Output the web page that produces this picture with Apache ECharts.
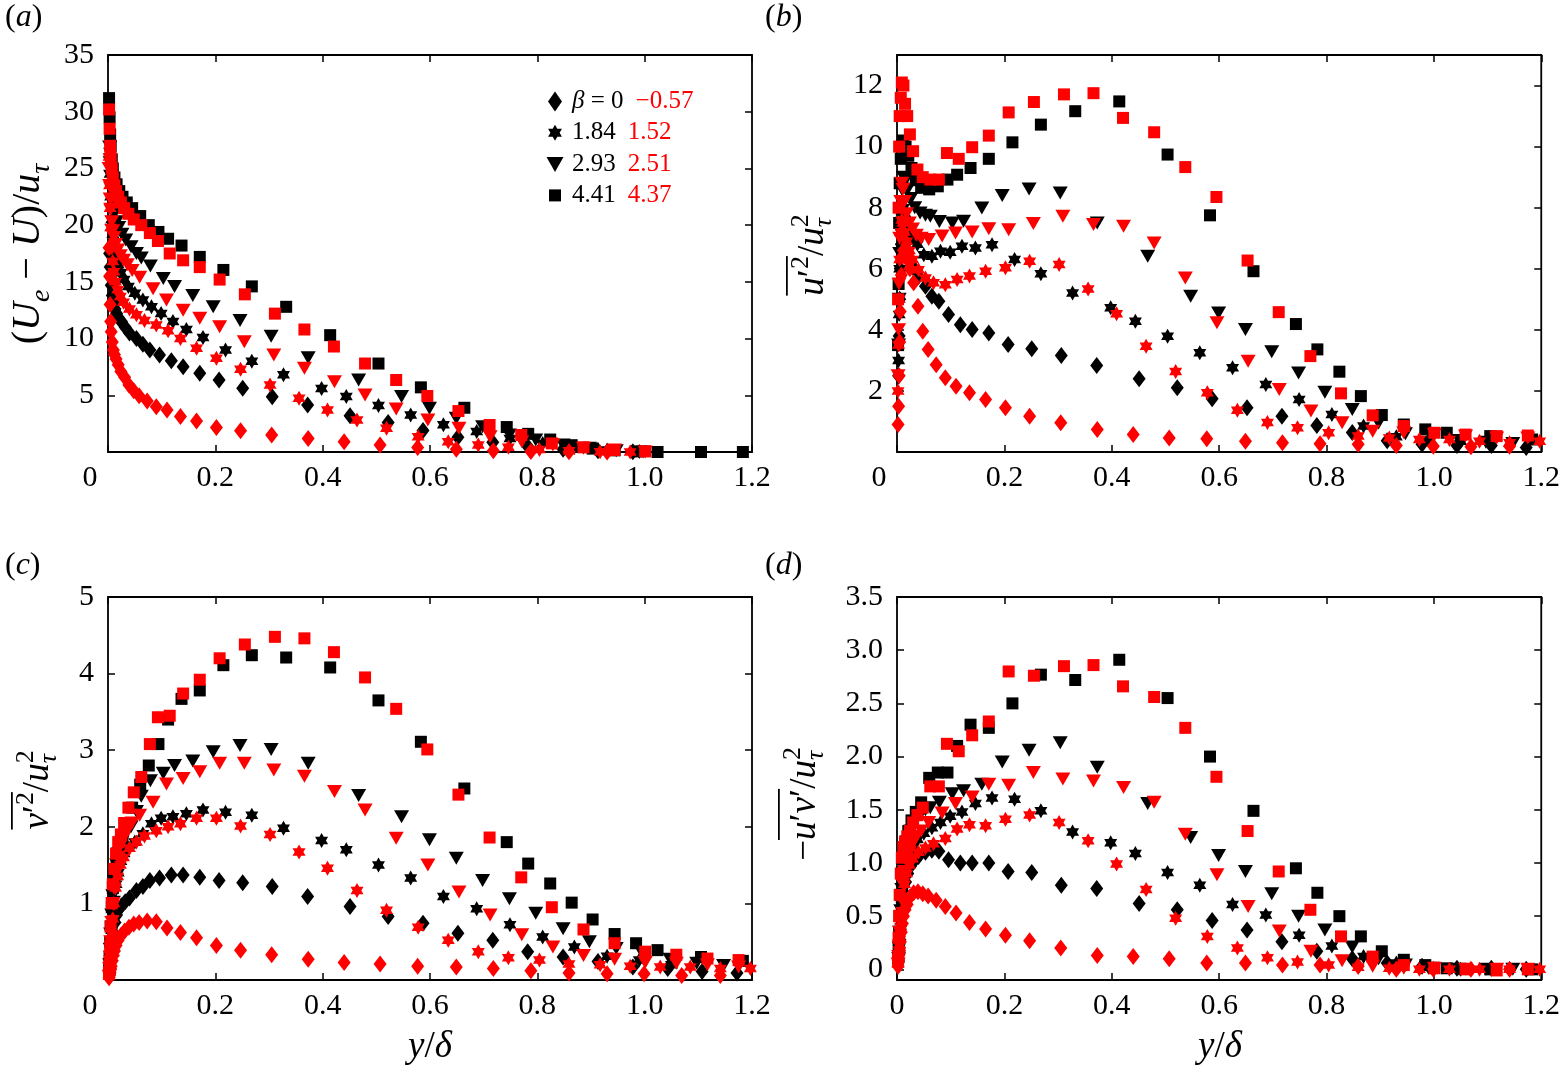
<!DOCTYPE html>
<html>
<head>
<meta charset="utf-8">
<script src="https://cdn.jsdelivr.net/npm/echarts/dist/echarts.min.js"></script>
<style>
html, body { margin: 0; padding: 0; background: #fff; }
#chart { width: 1563px; height: 1091px; }
</style>
</head>
<body>
<div id="chart"></div>
<script>
// y/delta positions of each profile (B = black, R = red; D diamond, S star, T triangle, Q square)
var xBD = [0.003, 0.004, 0.005, 0.006, 0.008, 0.010, 0.013, 0.016, 0.020, 0.025, 0.032, 0.040, 0.053, 0.065, 0.078, 0.096, 0.118, 0.140, 0.171, 0.207, 0.251, 0.306, 0.372, 0.451, 0.522, 0.587, 0.652, 0.717, 0.782, 0.848, 0.913, 0.978, 1.043, 1.107, 1.172];
var xRD = [0.002, 0.003, 0.004, 0.005, 0.006, 0.008, 0.010, 0.012, 0.015, 0.019, 0.024, 0.031, 0.039, 0.048, 0.058, 0.073, 0.090, 0.110, 0.135, 0.165, 0.202, 0.247, 0.305, 0.373, 0.440, 0.507, 0.577, 0.649, 0.718, 0.788, 0.859, 0.930, 0.999, 1.069, 1.141];
var xBS = [0.003, 0.004, 0.005, 0.007, 0.009, 0.012, 0.015, 0.019, 0.024, 0.030, 0.038, 0.050, 0.065, 0.081, 0.099, 0.121, 0.146, 0.177, 0.219, 0.268, 0.327, 0.398, 0.444, 0.504, 0.564, 0.625, 0.687, 0.749, 0.810, 0.869, 0.930, 0.990, 1.050];
var xRS = [0.002, 0.003, 0.004, 0.005, 0.007, 0.009, 0.011, 0.014, 0.018, 0.023, 0.029, 0.040, 0.053, 0.068, 0.090, 0.112, 0.135, 0.165, 0.202, 0.247, 0.302, 0.356, 0.409, 0.464, 0.519, 0.578, 0.634, 0.690, 0.746, 0.804, 0.859, 0.917, 0.973, 1.029, 1.085, 1.141, 1.197];
var xBT = [0.003, 0.004, 0.005, 0.007, 0.009, 0.012, 0.016, 0.020, 0.026, 0.033, 0.043, 0.053, 0.062, 0.079, 0.103, 0.124, 0.158, 0.196, 0.246, 0.304, 0.373, 0.467, 0.547, 0.599, 0.649, 0.698, 0.748, 0.797, 0.848, 0.897, 0.947, 0.997, 1.047, 1.097, 1.147];
var xRT = [0.002, 0.003, 0.004, 0.005, 0.007, 0.009, 0.011, 0.014, 0.018, 0.023, 0.029, 0.036, 0.045, 0.059, 0.084, 0.109, 0.140, 0.171, 0.208, 0.254, 0.309, 0.366, 0.422, 0.479, 0.537, 0.596, 0.654, 0.712, 0.771, 0.829, 0.886, 0.944, 1.001, 1.059, 1.117, 1.175];
var xBQ = [0.002, 0.003, 0.004, 0.005, 0.007, 0.009, 0.012, 0.016, 0.021, 0.027, 0.035, 0.045, 0.060, 0.076, 0.094, 0.112, 0.137, 0.171, 0.215, 0.268, 0.332, 0.414, 0.504, 0.583, 0.664, 0.743, 0.783, 0.824, 0.864, 0.903, 0.944, 0.984, 1.024, 1.105, 1.183];
var xRQ = [0.002, 0.003, 0.004, 0.005, 0.007, 0.009, 0.012, 0.015, 0.019, 0.024, 0.030, 0.038, 0.048, 0.062, 0.078, 0.093, 0.115, 0.140, 0.171, 0.208, 0.255, 0.311, 0.366, 0.421, 0.479, 0.537, 0.595, 0.653, 0.711, 0.770, 0.827, 0.886, 0.944, 1.001, 1.059, 1.117, 1.175];

// (a) velocity defect (Ue - U)/u_tau
var aBD = [17.5, 16.3, 15.4, 14.7, 13.8, 13.2, 12.6, 12.2, 11.8, 11.5, 11.0, 10.5, 10.0, 9.5, 9.0, 8.55, 8.05, 7.52, 6.94, 6.35, 5.61, 4.88, 4.14, 3.2, 2.6, 1.9, 1.3, 0.85, 0.5, 0.25, 0.1, 0.03, null, null, null];
var aRD = [18.0, 15.5, 13.0, 11.5, 10.6, 9.7, 9.0, 8.6, 8.2, 7.7, 7.1, 6.6, 5.9, 5.4, 4.95, 4.5, 4.0, 3.7, 3.12, 2.73, 2.17, 1.88, 1.50, 1.20, 0.91, 0.62, 0.4, 0.25, 0.12, 0.05, 0.02, 0.0, null, null, null];
var aBS = [26.5, 24.5, 22.5, 20.5, 19.2, 18.0, 17.2, 16.5, 15.8, 15.2, 14.6, 14.0, 13.4, 12.8, 12.2, 11.5, 10.8, 10.1, 9.0, 8.0, 6.8, 5.6, 4.9, 4.1, 3.26, 2.4, 1.8, 1.2, 0.76, 0.41, 0.17, 0.05, null];
var aRS = [26.0, 23.5, 21.5, 19.8, 18.0, 16.8, 15.9, 15.0, 14.3, 13.7, 13.2, 12.6, 12.1, 11.6, 11.2, 10.7, 10.0, 9.14, 8.26, 7.29, 5.91, 4.73, 3.70, 2.82, 2.09, 1.35, 0.91, 0.62, 0.41, 0.23, 0.11, 0.03, 0.0, null, null, null, null];
var aBT = [26.9, 25.5, 24.3, 23.0, 22.0, 21.0, 20.3, 19.8, 19.2, 18.7, 18.1, 17.5, 17.1, 16.4, 15.3, 14.6, 13.8, 12.8, 11.6, 10.2, 8.3, 6.35, 4.9, 3.85, 2.97, 2.23, 1.50, 1.06, 0.62, 0.32, 0.12, 0.0, null, null, null];
var aRT = [25.0, 23.5, 22.3, 21.4, 20.3, 19.5, 18.9, 18.3, 17.8, 17.3, 16.9, 16.5, 16.0, 15.4, 14.4, 13.4, 12.5, 11.8, 11.05, 9.73, 8.55, 7.38, 6.20, 5.02, 3.8, 2.82, 2.09, 1.35, 0.91, 0.62, 0.32, 0.17, 0.0, null, null, null];
var aBQ = [31.2, 29.5, 28.0, 27.0, 25.8, 25.0, 24.2, 23.6, 23.0, 22.5, 22.0, 21.5, 20.8, 20.0, 19.4, 18.8, 18.2, 17.2, 16.05, 14.6, 12.8, 10.3, 7.8, 5.7, 3.9, 2.2, 1.6, 1.1, 0.6, 0.3, 0.15, 0.05, 0.0, 0.0, 0.0];
var aRQ = [30.2, 28.5, 27.0, 26.0, 25.0, 24.2, 23.5, 23.0, 22.5, 22.0, 21.5, 21.0, 20.5, 20.0, 19.3, 18.6, 17.5, 16.9, 16.3, 15.2, 13.9, 12.2, 10.8, 9.3, 7.8, 6.35, 4.94, 3.61, 2.38, 1.50, 0.76, 0.41, 0.17, 0.05, null, null, null];

// (b) streamwise normal stress u'u'/u_tau^2
var bBD = [2.5, 3.8, 5.0, 6.0, 6.8, 7.0, 6.9, 6.7, 6.4, 6.2, 6.0, 5.75, 5.43, 5.1, 4.94, 4.50, 4.17, 4.01, 3.90, 3.52, 3.38, 3.16, 2.83, 2.40, 2.10, 1.74, 1.45, 1.17, 0.87, 0.64, 0.37, 0.25, 0.21, 0.21, 0.15];
var bRD = [0.9, 1.5, 2.5, 3.6, 4.6, 5.8, 6.4, 6.6, 6.5, 6.3, 6.0, 5.54, 4.77, 3.95, 3.36, 2.86, 2.43, 2.15, 1.94, 1.72, 1.45, 1.17, 0.96, 0.74, 0.57, 0.46, 0.43, 0.35, 0.30, 0.27, 0.25, 0.21, 0.19, 0.17, 0.19];
var bBS = [3.0, 4.5, 6.0, 7.2, 7.9, 8.0, 7.8, 7.5, 7.2, 7.0, 6.8, 6.46, 6.41, 6.57, 6.54, 6.74, 6.68, 6.79, 6.30, 5.84, 5.21, 4.72, 4.28, 3.79, 3.25, 2.76, 2.21, 1.72, 1.23, 0.85, 0.50, 0.40, 0.35];
var bRS = [2.0, 3.5, 5.0, 6.3, 7.2, 7.6, 7.5, 7.2, 6.9, 6.6, 6.3, 5.97, 5.70, 5.54, 5.48, 5.65, 5.76, 5.92, 6.03, 6.25, 6.14, 5.34, 4.53, 3.46, 2.64, 1.94, 1.37, 0.97, 0.79, 0.63, 0.52, 0.46, 0.41, 0.41, 0.35, 0.30, 0.35];
var bBT = [3.5, 5.0, 6.5, 7.8, 8.6, 9.0, 8.9, 8.6, 8.3, 8.0, 7.83, 7.75, 7.72, 7.55, 7.50, 7.56, 7.99, 8.40, 8.61, 8.48, 7.50, 6.41, 5.10, 4.55, 4.01, 3.28, 2.59, 1.96, 1.39, 0.95, 0.60, 0.45, 0.38, 0.32, 0.28];
var bRT = [2.5, 4.0, 5.5, 7.0, 8.2, 8.8, 8.6, 8.2, 7.8, 7.5, 7.3, 7.1, 7.0, 6.96, 7.07, 7.17, 7.20, 7.31, 7.28, 7.48, 7.72, 7.45, 7.39, 6.84, 5.70, 4.23, 2.97, 2.05, 1.34, 0.96, 0.68, 0.63, 0.57, 0.52, 0.46, 0.46];
var bBQ = [3.5, 5.5, 7.5, 8.8, 9.6, 10.0, 10.2, 10.0, 9.7, 9.3, 8.9, 8.65, 8.6, 8.7, 8.92, 9.08, 9.30, 9.60, 10.14, 10.72, 11.16, 11.48, 9.74, 7.75, 5.92, 4.19, 3.36, 2.63, 1.83, 1.21, 0.90, 0.74, 0.63, 0.52, 0.41];
var bRQ = [5.0, 8.0, 10.0, 11.0, 11.6, 12.1, 12.0, 11.4, 11.0, 10.4, 9.85, 9.25, 9.0, 8.92, 8.92, 9.79, 9.60, 9.98, 10.36, 11.12, 11.46, 11.71, 11.75, 10.94, 10.47, 9.33, 8.35, 6.27, 4.58, 3.14, 1.92, 1.20, 0.85, 0.63, 0.57, 0.52, 0.54];

// (c) wall-normal stress v'v'/u_tau^2
var cBD = [0.08, 0.15, 0.25, 0.35, 0.5, 0.62, 0.75, 0.85, 0.92, 0.97, 1.02, 1.07, 1.17, 1.22, 1.30, 1.33, 1.37, 1.37, 1.34, 1.30, 1.27, 1.22, 1.09, 0.96, 0.83, 0.74, 0.61, 0.52, 0.37, 0.30, 0.24, 0.17, 0.15, 0.11, 0.09];
var cRD = [0.03, 0.06, 0.1, 0.14, 0.18, 0.25, 0.32, 0.38, 0.45, 0.52, 0.58, 0.64, 0.69, 0.73, 0.75, 0.77, 0.76, 0.68, 0.62, 0.55, 0.45, 0.39, 0.33, 0.27, 0.23, 0.21, 0.18, 0.17, 0.15, 0.12, 0.09, 0.08, 0.08, 0.06, 0.06];
var cBS = [0.15, 0.3, 0.45, 0.65, 0.85, 1.05, 1.25, 1.4, 1.55, 1.65, 1.72, 1.80, 1.91, 2.04, 2.11, 2.13, 2.17, 2.22, 2.19, 2.15, 1.98, 1.82, 1.70, 1.50, 1.33, 1.09, 0.93, 0.72, 0.56, 0.43, 0.31, 0.26, 0.20];
var cRS = [0.05, 0.12, 0.25, 0.4, 0.6, 0.8, 1.0, 1.2, 1.35, 1.5, 1.6, 1.72, 1.80, 1.88, 1.95, 2.0, 2.04, 2.11, 2.11, 2.01, 1.90, 1.67, 1.46, 1.17, 0.91, 0.69, 0.52, 0.37, 0.29, 0.26, 0.21, 0.20, 0.18, 0.17, 0.17, 0.15, 0.15];
var cBT = [0.2, 0.4, 0.6, 0.85, 1.1, 1.3, 1.5, 1.65, 1.8, 1.9, 2.0, 2.2, 2.4, 2.6, 2.70, 2.80, 2.86, 2.98, 3.06, 3.01, 2.83, 2.41, 2.13, 1.83, 1.59, 1.30, 1.06, 0.87, 0.67, 0.50, 0.41, 0.33, 0.27, 0.22, 0.19];
var cRT = [0.05, 0.15, 0.3, 0.5, 0.75, 1.0, 1.2, 1.4, 1.6, 1.75, 1.85, 1.95, 2.05, 2.15, 2.32, 2.56, 2.63, 2.72, 2.83, 2.83, 2.74, 2.66, 2.46, 2.22, 1.85, 1.50, 1.15, 0.85, 0.59, 0.43, 0.32, 0.27, 0.23, 0.22, 0.20, 0.17];
var cBQ = [0.15, 0.3, 0.5, 0.7, 0.95, 1.2, 1.35, 1.55, 1.7, 1.85, 2.05, 2.25, 2.55, 2.8, 3.08, 3.40, 3.67, 3.78, 4.11, 4.24, 4.21, 4.08, 3.65, 3.11, 2.50, 1.80, 1.52, 1.26, 1.01, 0.79, 0.60, 0.48, 0.39, 0.30, 0.25];
var cRQ = [0.1, 0.25, 0.45, 0.7, 1.0, 1.25, 1.45, 1.65, 1.8, 1.9, 2.05, 2.25, 2.45, 2.65, 3.08, 3.43, 3.45, 3.74, 3.92, 4.20, 4.38, 4.48, 4.46, 4.28, 3.95, 3.54, 3.01, 2.42, 1.86, 1.34, 0.95, 0.66, 0.48, 0.37, 0.33, 0.28, 0.26];

// (d) Reynolds shear stress -u'v'/u_tau^2
var dBD = [0.1, 0.18, 0.28, 0.38, 0.5, 0.62, 0.72, 0.82, 0.9, 0.97, 1.02, 1.06, 1.10, 1.12, 1.11, 1.03, 1.0, 1.0, 1.0, 0.92, 0.91, 0.79, 0.76, 0.62, 0.56, 0.46, 0.37, 0.26, 0.17, 0.10, 0.06, 0.03, 0.01, 0.01, 0.0];
var dRD = [0.03, 0.08, 0.14, 0.2, 0.26, 0.35, 0.43, 0.5, 0.56, 0.61, 0.68, 0.72, 0.73, 0.71, 0.69, 0.65, 0.59, 0.53, 0.44, 0.38, 0.32, 0.27, 0.20, 0.13, 0.12, 0.10, 0.06, 0.06, 0.04, 0.04, 0.03, 0.0, 0.0, 0.0, 0.0];
var dBS = [0.1, 0.2, 0.3, 0.45, 0.6, 0.75, 0.9, 1.0, 1.08, 1.15, 1.22, 1.28, 1.33, 1.38, 1.44, 1.48, 1.56, 1.61, 1.60, 1.49, 1.29, 1.19, 1.09, 0.91, 0.79, 0.61, 0.51, 0.32, 0.22, 0.12, 0.06, 0.02, 0.0];
var dRS = [0.05, 0.1, 0.18, 0.28, 0.4, 0.55, 0.68, 0.8, 0.9, 0.98, 1.04, 1.10, 1.14, 1.18, 1.23, 1.32, 1.36, 1.35, 1.41, 1.45, 1.38, 1.21, 0.99, 0.75, 0.48, 0.31, 0.20, 0.11, 0.07, 0.04, 0.02, 0.01, 0.0, 0.0, 0.0, 0.0, 0.0];
var dBT = [0.1, 0.2, 0.35, 0.55, 0.75, 0.95, 1.1, 1.2, 1.3, 1.38, 1.45, 1.5, 1.52, 1.57, 1.65, 1.68, 1.74, 1.95, 2.06, 2.13, 1.90, 1.56, 1.24, 1.07, 0.92, 0.71, 0.50, 0.37, 0.21, 0.10, 0.04, 0.01, 0.0, 0.0, 0.0];
var dRT = [0.05, 0.12, 0.22, 0.35, 0.5, 0.65, 0.8, 0.92, 1.02, 1.1, 1.18, 1.25, 1.3, 1.38, 1.47, 1.56, 1.62, 1.74, 1.73, 1.85, 1.79, 1.77, 1.71, 1.57, 1.27, 0.89, 0.59, 0.36, 0.17, 0.08, 0.03, 0.01, 0.01, 0.0, 0.0, 0.0];
var dBQ = [0.1, 0.2, 0.35, 0.5, 0.7, 0.9, 1.05, 1.2, 1.3, 1.4, 1.48, 1.57, 1.80, 1.85, 1.85, 2.10, 2.30, 2.27, 2.50, 2.77, 2.72, 2.91, 2.55, 2.00, 1.49, 0.95, 0.72, 0.50, 0.31, 0.17, 0.09, 0.04, 0.01, 0.0, 0.0];
var dRQ = [0.1, 0.3, 0.5, 0.7, 0.9, 1.05, 1.15, 1.2, 1.25, 1.3, 1.38, 1.45, 1.52, 1.72, 1.72, 2.12, 2.05, 2.20, 2.33, 2.80, 2.76, 2.85, 2.86, 2.66, 2.56, 2.27, 1.81, 1.30, 0.92, 0.56, 0.31, 0.12, 0.04, 0.01, 0.0, -0.01, 0.0];

// beta values shown in the legend (black / red)
var betaBlack = ['β = 0', '1.84', '2.93', '4.41'];
var betaRed = ['−0.57', '1.52', '2.51', '4.37'];

var xTicks = [0, 1.2, 0.2];            // min, max, step
var yRanges = [[0, 35, 5], [0, 13, 2], [0, 5, 1], [-0.1, 3.5, 0.5]];

var FONT = '"Liberation Serif", "Times New Roman", serif';
var STAR = 'path://M0,-10 L2.887,-5 L8.66,-5 L5.774,0 L8.66,5 L2.887,5 L0,10 L-2.887,5 L-8.66,5 L-5.774,0 L-8.66,-5 L-2.887,-5 Z';

var cases = [
    { name: betaBlack[0], color: '#000', symbol: 'diamond', size: [13, 17], x: xBD, y: [aBD, bBD, cBD, dBD] },
    { name: betaBlack[1], color: '#000', symbol: STAR, size: [13, 15], x: xBS, y: [aBS, bBS, cBS, dBS] },
    { name: betaBlack[2], color: '#000', symbol: 'triangle', rotate: 180, size: [15, 13], x: xBT, y: [aBT, bBT, cBT, dBT] },
    { name: betaBlack[3], color: '#000', symbol: 'rect', size: 12, x: xBQ, y: [aBQ, bBQ, cBQ, dBQ] },
    { name: betaRed[0], color: '#ff0000', symbol: 'diamond', size: [13, 17], x: xRD, y: [aRD, bRD, cRD, dRD] },
    { name: betaRed[1], color: '#ff0000', symbol: STAR, size: [13, 15], x: xRS, y: [aRS, bRS, cRS, dRS] },
    { name: betaRed[2], color: '#ff0000', symbol: 'triangle', rotate: 180, size: [15, 13], x: xRT, y: [aRT, bRT, cRT, dRT] },
    { name: betaRed[3], color: '#ff0000', symbol: 'rect', size: 12, x: xRQ, y: [aRQ, bRQ, cRQ, dRQ] }
];

// plot boxes in pixels: a, b, c, d
var boxes = [
    { left: 108, top: 55, width: 644, height: 397 },
    { left: 897, top: 55, width: 645, height: 397 },
    { left: 108, top: 597, width: 644, height: 383 },
    { left: 897, top: 597, width: 645, height: 383 }
];

var LABEL_SIZE = 30;
var tickStyle = { show: true, inside: true, length: 7, lineStyle: { color: '#000', width: 1.5 } };

var grids = [], xAxes = [], yAxes = [], series = [];
boxes.forEach(function (b, g) {
    grids.push({ left: b.left, top: b.top, width: b.width, height: b.height, show: true, borderColor: '#000', borderWidth: 1.8 });
    // bottom x axis with labels, top one only carries the ticks
    [true, false].forEach(function (main) {
        xAxes.push({
            gridIndex: g, type: 'value', position: main ? 'bottom' : 'top',
            min: xTicks[0], max: xTicks[1], interval: xTicks[2],
            axisLine: { show: false, onZero: false },
            axisTick: tickStyle,
            splitLine: { show: false },
            axisLabel: main ? {
                show: true, margin: 11, fontFamily: FONT, fontSize: LABEL_SIZE, color: '#000',
                formatter: function (v) {
                    if (Math.abs(v) < 1e-9) return g === 3 ? '0' : '{z|0}';
                    return v.toFixed(1);
                },
                rich: { z: { fontFamily: FONT, fontSize: LABEL_SIZE, color: '#000', padding: [0, 36, 0, 0] } }
            } : { show: false }
        });
    });
    var r = yRanges[g];
    [true, false].forEach(function (main) {
        var ax = {
            gridIndex: g, type: 'value', position: main ? 'left' : 'right',
            min: r[0], max: r[1],
            axisLine: { show: false, onZero: false },
            axisTick: tickStyle,
            splitLine: { show: false },
            axisLabel: main ? {
                show: true, margin: 14, fontFamily: FONT, fontSize: LABEL_SIZE, color: '#000',
                formatter: function (v) {
                    if (g === 3) {
                        if (v < -1e-9) return '';
                        return Math.abs(v) < 1e-9 ? '0' : v.toFixed(1);
                    }
                    if (Math.abs(v) < 1e-9) return '';
                    if (Math.abs(v / r[2] - Math.round(v / r[2])) > 1e-6) return '';
                    return String(v);
                }
            } : { show: false }
        };
        if (r[0] % r[2] === 0) {
            ax.interval = r[2];
        } else {
            // min is not on a tick, let echarts pick 0.5 steps itself
            ax.splitNumber = 7;
            ax.minInterval = r[2];
            ax.maxInterval = r[2];
        }
        yAxes.push(ax);
    });
    cases.forEach(function (c) {
        var data = [];
        c.x.forEach(function (x, i) {
            var v = c.y[g][i];
            if (v !== null) data.push([x, v]);
        });
        series.push({
            type: 'scatter', name: c.name,
            xAxisIndex: 2 * g, yAxisIndex: 2 * g,
            symbol: c.symbol, symbolSize: c.size, symbolRotate: c.rotate || 0,
            itemStyle: { color: c.color, opacity: 1 },
            emphasis: { disabled: true },
            silent: true,
            data: data
        });
    });
});

// ---- math-ish labels made of text pieces ----
var measureCtx = document.createElement('canvas').getContext('2d');
function textW(t, size, italic) {
    measureCtx.font = (italic ? 'italic ' : '') + size + 'px ' + FONT;
    return measureCtx.measureText(t).width;
}
// flags: i italic, ^ sup, _ sub, k stack with next piece, o overline start, O overline end
function mathLabel(pieces, size) {
    var kids = [], x = 0, stackW = 0, o0 = null, o1 = null;
    pieces.forEach(function (p) {
        var f = p[1] || '';
        var it = f.indexOf('i') >= 0;
        var sz = size, base = 0;
        if (f.indexOf('^') >= 0) { sz = size * 0.7; base = -size * 0.4; }
        if (f.indexOf('_') >= 0) { sz = size * 0.7; base = size * 0.22; }
        var w = textW(p[0], sz, it);
        if (f.indexOf('o') >= 0) o0 = x;
        kids.push({
            type: 'text', x: x, y: base - 0.33 * sz, silent: true,
            style: { text: p[0], font: (it ? 'italic ' : '') + sz + 'px ' + FONT, fill: '#000', align: 'left', verticalAlign: 'middle' }
        });
        if (f.indexOf('k') >= 0) {
            stackW = Math.max(stackW, w);
        } else {
            x += Math.max(w, stackW);
            stackW = 0;
        }
        if (f.indexOf('O') >= 0) o1 = x;
    });
    if (o0 !== null) {
        kids.push({ type: 'line', silent: true, shape: { x1: o0, y1: -1.03 * size, x2: o1, y2: -1.03 * size }, style: { stroke: '#000', lineWidth: 1.8 } });
    }
    kids.forEach(function (k) {
        if (k.type === 'text') k.x -= x / 2;
        else { k.shape.x1 -= x / 2; k.shape.x2 -= x / 2; }
    });
    return { kids: kids, w: x };
}
function vTitle(pieces, bx, cy, size) {
    return { type: 'group', x: bx, y: cy, rotation: Math.PI / 2, children: mathLabel(pieces, size).kids };
}
function hTitle(pieces, cx, by, size) {
    return { type: 'group', x: cx, y: by, children: mathLabel(pieces, size).kids };
}
function tag(letter, left, by) {
    var m = mathLabel([['('], [letter, 'i'], [')']], 32);
    return { type: 'group', x: left + m.w / 2, y: by, children: m.kids };
}

var TS = 37;
var graphics = [
    vTitle([['('], ['U', 'i'], ['e', 'i_'], [' − '], ['U', 'i'], [')/'], ['u', 'i'], ['τ', 'i_']], 42, 254, 40),
    vTitle([['u', 'io'], ['′'], ['2', '^O'], ['/'], ['u', 'i'], ['2', '^k'], ['τ', 'i_']], 825, 255, TS),
    vTitle([['v', 'io'], ['′'], ['2', '^O'], ['/'], ['u', 'i'], ['2', '^k'], ['τ', 'i_']], 50, 790, TS),
    vTitle([['−'], ['u', 'io'], ['′'], ['v', 'i'], ['′', 'O'], ['/'], ['u', 'i'], ['2', '^k'], ['τ', 'i_']], 817, 804, TS),
    hTitle([['y', 'i'], ['/'], ['δ', 'i']], 430, 1059, TS),
    hTitle([['y', 'i'], ['/'], ['δ', 'i']], 1220, 1059, TS),
    tag('a', 5, 28), tag('b', 765, 28), tag('c', 5, 576), tag('d', 765, 576)
];

// legend icons share a 20x20 frame so their sizes stay as drawn
var FRAME = 'M-10,-10 M10,10 ';
var legendIcons = [
    'path://' + FRAME + 'M0,-10 L7,0 L0,10 L-7,0 Z',
    'path://' + FRAME + 'M0,-8 L2.31,-4 L6.93,-4 L4.62,0 L6.93,4 L2.31,4 L0,8 L-2.31,4 L-6.93,4 L-4.62,0 L-6.93,-4 L-2.31,-4 Z',
    'path://' + FRAME + 'M-8.5,-7 L8.5,-7 L0,8 Z',
    'path://' + FRAME + 'M-6,-6 L6,-6 L6,6 L-6,6 Z'
];
var legendFont = { fontFamily: FONT, fontSize: 25, color: '#000', lineHeight: 22 };

var chart = echarts.init(document.getElementById('chart'));
chart.setOption({
    animation: false,
    backgroundColor: '#fff',
    grid: grids,
    xAxis: xAxes,
    yAxis: yAxes,
    legend: {
        orient: 'vertical', left: 540, top: 84,
        itemWidth: 20, itemHeight: 20, itemGap: 6.3,
        selectedMode: false,
        data: betaBlack.map(function (n, i) { return { name: n, icon: legendIcons[i] }; }),
        textStyle: {
            fontFamily: FONT, fontSize: 25, color: '#000', lineHeight: 22,
            rich: {
                gi: Object.assign({}, legendFont, { fontStyle: 'italic', padding: [0, 0, 0, 2] }),
                k: Object.assign({}, legendFont),
                p: Object.assign({}, legendFont, { padding: [0, 0, 0, 2] }),
                r: Object.assign({}, legendFont, { color: '#ff0000', padding: [0, 0, 0, 12] })
            }
        },
        formatter: function (name) {
            var red = '{r|' + betaRed[betaBlack.indexOf(name)] + '}';
            if (name === betaBlack[0]) return '{gi|β}{k| = 0}' + red;
            return '{p|' + name + '}' + red;
        }
    },
    graphic: graphics,
    series: series
});
</script>
</body>
</html>
